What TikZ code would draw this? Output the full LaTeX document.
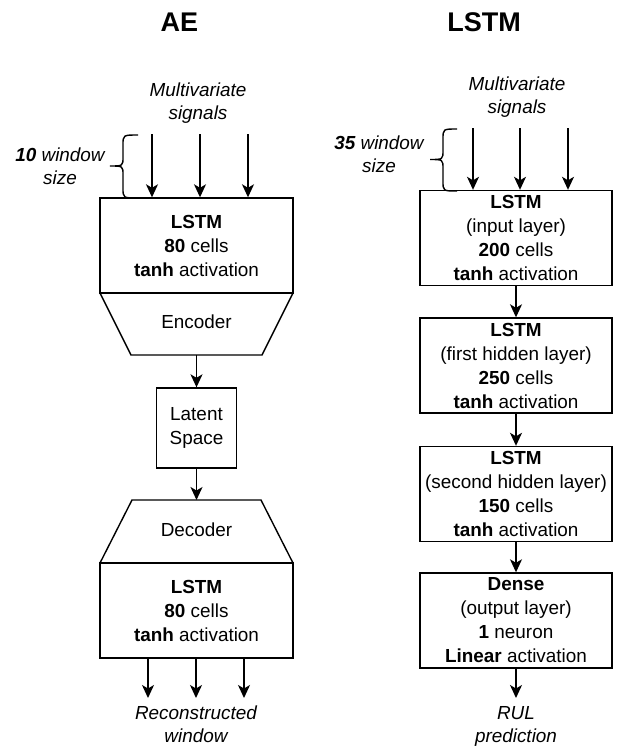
\documentclass[tikz,border=0pt]{standalone}
\usepackage{fontspec}
\setmainfont{Liberation Sans}
\usetikzlibrary{arrows.meta}
\begin{document}
\begin{tikzpicture}[x=1pt,y=-1pt,line width=1.4pt,
  box/.style={draw,line width=1.4pt,minimum width=193pt,minimum height=95pt,align=center,inner sep=0pt,font=\fontsize{18.9}{24}\selectfont},
  rbox/.style={box,minimum width=192pt},
  arr/.style={-{Stealth[length=13pt,width=12pt,inset=3.5pt]},line width=1.4pt},
  lbl/.style={align=center,inner sep=0pt,font=\fontsize{18.9}{23}\selectfont\itshape},
  plain/.style={align=center,inner sep=0pt,font=\fontsize{18.9}{24}\selectfont},
  ttl/.style={inner sep=0pt,font=\fontsize{27}{32}\selectfont\bfseries},
  brc/.style={line width=1.4pt}]
\useasboundingbox (0,0) rectangle (616,747);

% ---------------- AE column ----------------
\node[ttl] (aet) at (179.5,22) {AE};
\node[lbl] (ms1) at (198,103) {Multivariate\\signals};
\coordinate (ia1) at (152,134);
\coordinate (ia2) at (200,134);
\coordinate (ia3) at (248,134);
\node[box] (l1) at (196.5,245.5) {\textbf{LSTM}\\\textbf{80} cells\\\textbf{tanh} activation};
\foreach \c in {ia1,ia2,ia3} \draw[arr] (\c) -- (\c |- l1.north);

% brace + window label
\draw[brc] (138,135) .. controls (123,135) .. (123,145) -- (123,157)
  .. controls (123,166) .. (110,166) .. controls (123,166) .. (123,175)
  -- (123,188) .. controls (123,198) .. (138,198);
\node[lbl] (w1) at (60,166.5) {\textbf{10} window\\size};

% encoder trapezoid
\draw (100,293) -- (131,355) -- (262,355) -- (293,293);
\node[plain] (enc) at (196.5,322) {Encoder};
\coordinate (encb) at (196.5,355);

\node[draw,minimum width=80pt,minimum height=80pt,align=center,inner sep=0pt,font=\fontsize{18.9}{24}\selectfont] (lat) at (196.5,428) {Latent\\Space};
\draw[arr] (encb) -- (lat.north);

% decoder trapezoid
\draw (100,563) -- (132,500) -- (261,500) -- (293,563);
\node[plain] (dec) at (196.5,530) {Decoder};
\coordinate (dect) at (196.5,500);
\draw[arr] (lat.south) -- (dect);

\node[box] (l2) at (196.5,610.5) {\textbf{LSTM}\\\textbf{80} cells\\\textbf{tanh} activation};
\coordinate (oa1) at (148,698);
\coordinate (oa2) at (196,698);
\coordinate (oa3) at (244,698);
\foreach \c in {oa1,oa2,oa3} \draw[arr] (\c |- l2.south) -- (\c);
\node[lbl] (rw) at (196,724.5) {Reconstructed\\window};

% ---------------- LSTM column ----------------
\node[ttl] (lst) at (484,22) {LSTM};
\node[lbl] (ms2) at (517,97.5) {Multivariate\\signals};
\coordinate (ja1) at (473,128);
\coordinate (ja2) at (520,128);
\coordinate (ja3) at (568,128);
\node[rbox] (r1) at (516,238) {\textbf{LSTM}\\(input layer)\\\textbf{200} cells\\\textbf{tanh} activation};
\foreach \c in {ja1,ja2,ja3} \draw[arr] (\c) -- (\c |- r1.north);

\draw[brc] (457,129) .. controls (443,129) .. (443,139) -- (443,150)
  .. controls (443,159.5) .. (430,159.5) .. controls (443,159.5) .. (443,169)
  -- (443,181) .. controls (443,191) .. (457,191);
\node[lbl] (w2) at (379,154) {\textbf{35} window\\size};

\node[rbox] (r2) at (516,365.5) {\textbf{LSTM}\\(first hidden layer)\\\textbf{250} cells\\\textbf{tanh} activation};
\node[rbox] (r3) at (516,494) {\textbf{LSTM}\\(second hidden layer)\\\textbf{150} cells\\\textbf{tanh} activation};
\node[rbox] (r4) at (516,620.5) {\textbf{Dense}\\(output layer)\\\textbf{1} neuron\\\textbf{Linear} activation};
\draw[arr] (r1.south) -- (r2.north);
\draw[arr] (r2.south) -- (r3.north);
\draw[arr] (r3.south) -- (r4.north);
\coordinate (rout) at (516,698);
\draw[arr] (r4.south) -- (rout);
\node[lbl] (rul) at (516,726.5) {RUL\\prediction};
\end{tikzpicture}
\end{document}
